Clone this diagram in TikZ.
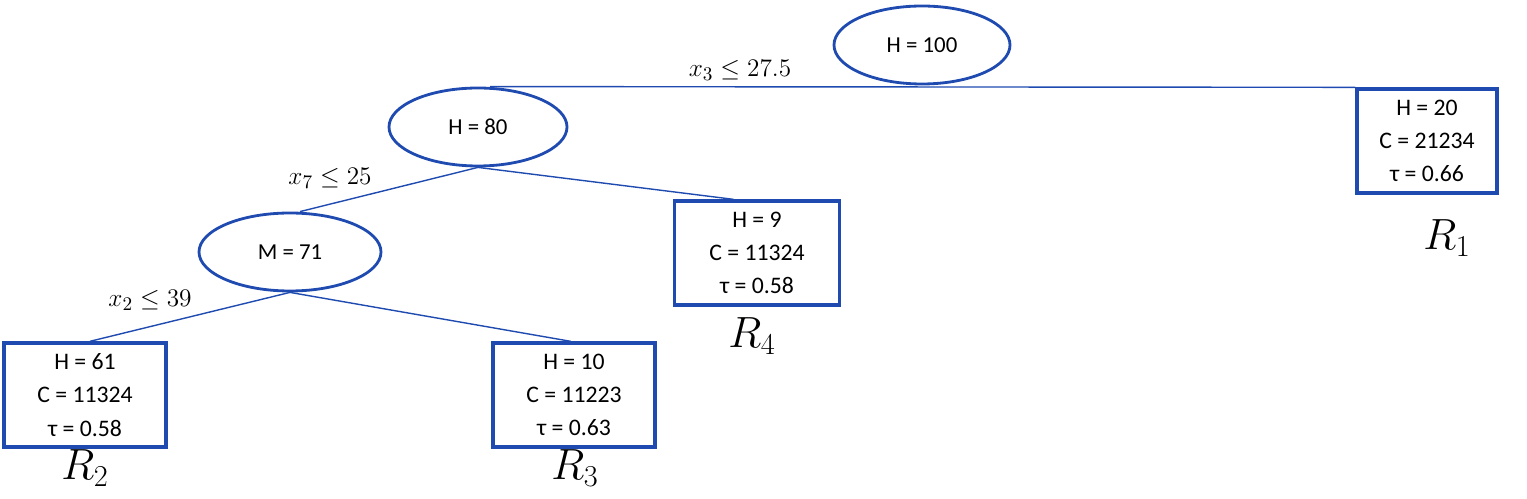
\documentclass[tikz,border=0pt]{standalone}
\usepackage{fontspec}
\setmainfont{Carlito}
\usetikzlibrary{shapes.geometric,calc}
\definecolor{nb}{HTML}{1F4BB0}
\begin{document}
\begin{tikzpicture}[x=0.02cm,y=-0.02cm,
  ell/.style={ellipse,draw=nb,line width=1.6pt,minimum width=178*0.02cm,minimum height=78*0.02cm,font=\fontsize{13}{15}\selectfont,inner sep=0pt},
  box/.style={draw=nb,line width=1.9pt,minimum width=#1*0.02cm,minimum height=104*0.02cm,align=center,font=\fontsize{13.5}{19}\selectfont,inner sep=0pt},
  edge/.style={draw=nb,line width=0.8pt},
  rl/.style={font=\fontsize{24}{26}\selectfont},
  cl/.style={font=\fontsize{15}{17}\selectfont}]
\useasboundingbox (0,0) rectangle (1527,499);
\node[ell,minimum width=176*0.02cm] (h100) at (922,45) {H = 100};
\node[ell] (h80) at (478,127) {H = 80};
\node[ell,minimum width=182*0.02cm] (m71) at (290,252) {M = 71};
\node[box=140] (r1) at (1427,141) {H = 20\\C = 21234\\τ = 0.66};
\node[box=165] (r4) at (757,253) {H = 9\\C = 11324\\τ = 0.58};
\node[box=162] (r2) at (85,395) {H = 61\\C = 11324\\τ = 0.58};
\node[box=162] (r3) at (574,395) {H = 10\\C = 11223\\τ = 0.63};
\node[rl] (l1) at (1447,238) {$R_1$};
\node[rl] (l4) at (752,336) {$R_4$};
\node[rl] (l2) at (85,468) {$R_2$};
\node[rl] (l3) at (575,468) {$R_3$};
\node[cl] (c3) at (740,70) {$x_3\leq 27.5$};
\node[cl] (c7) at (330,178) {$x_7\leq 25$};
\node[cl] (c2) at (150,300) {$x_2\leq 39$};
\draw[edge] ($(h80.north)+(12,0)$) -- (r1.north west);
\draw[edge] (h80.south) -- ($(m71.north)+(10,0)$);
\draw[edge] (h80.south) -- ($(r4.north west)!0.36!(r4.north east)$);
\draw[edge] (m71.south) -- ($(r2.north west)!0.53!(r2.north east)$);
\draw[edge] (m71.south) -- ($(r3.north west)!0.48!(r3.north east)$);
\end{tikzpicture}
\end{document}
